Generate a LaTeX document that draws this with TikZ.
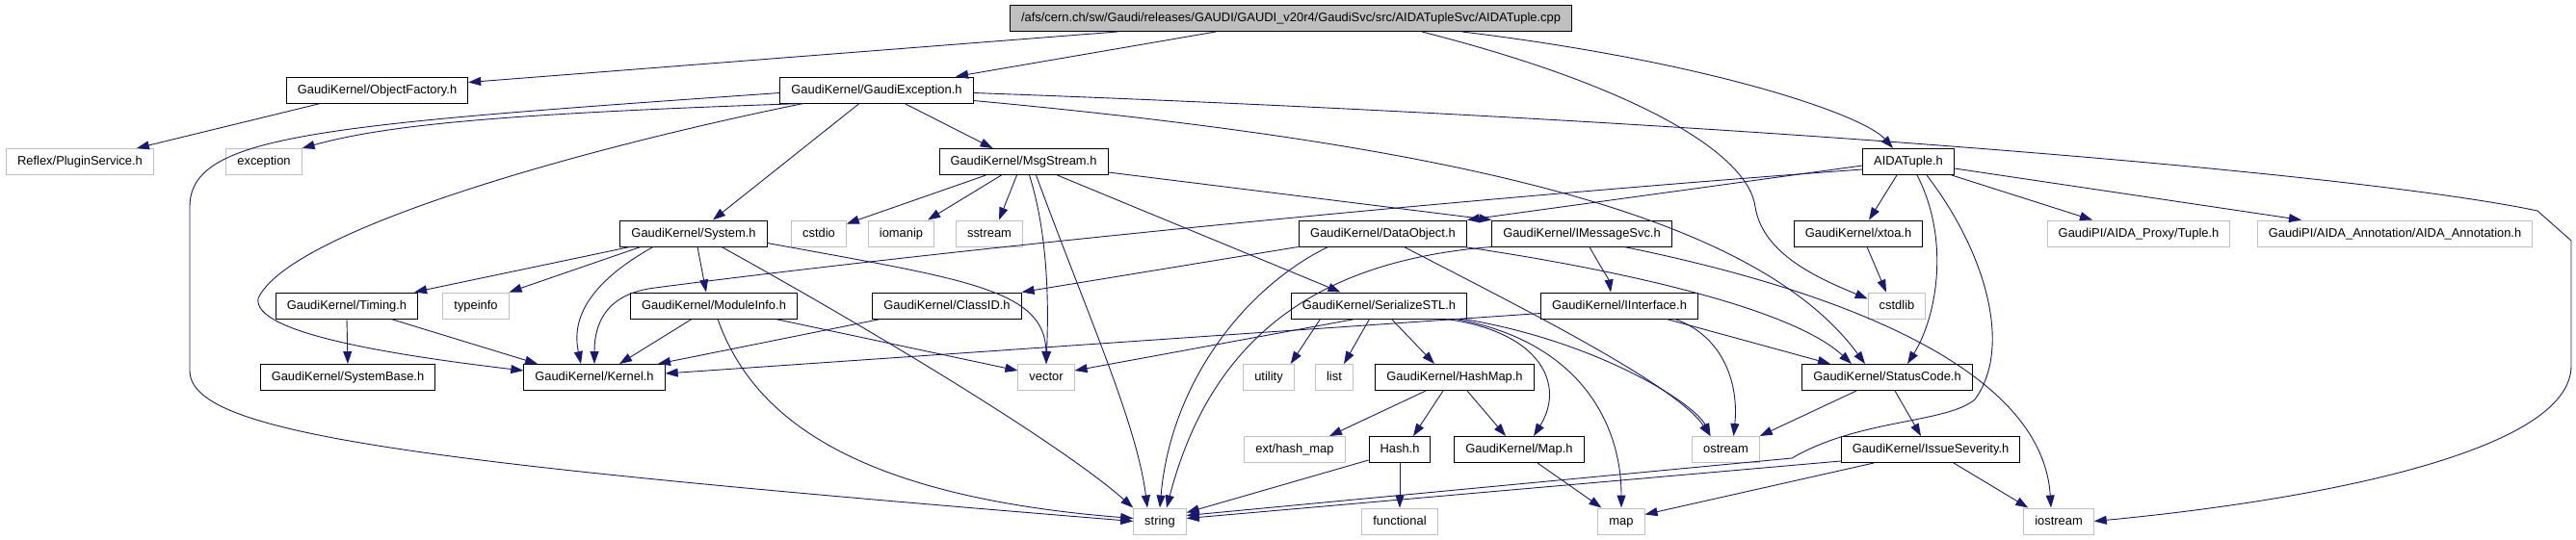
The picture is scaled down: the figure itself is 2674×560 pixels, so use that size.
\documentclass[tikz,border=0pt]{standalone}
\usepackage{fontspec}
\setmainfont{Liberation Sans}
\usetikzlibrary{arrows.meta,calc}
\definecolor{edgec}{HTML}{191970}
\definecolor{grayb}{HTML}{BFBFBF}
\begin{document}
\begin{tikzpicture}[x=1pt,y=-1pt,
  box/.style={draw=black,line width=1pt,inner xsep=11.5pt,inner ysep=0pt,minimum height=27pt,
    text height=9.6pt,text depth=2.6pt,font=\fontsize{12.9}{15}\selectfont,anchor=center},
  gbox/.style={box,draw=grayb},
  rootbox/.style={box,fill=grayb},
  e/.style={draw=edgec,line width=0.9pt,-{Triangle[length=13pt,width=9pt]}}]
\useasboundingbox (0,0) rectangle (2674,560);
% row 1
\node[rootbox] (root) at (1340,19) {/afs/cern.ch/sw/Gaudi/releases/GAUDI/GAUDI\_v20r4/GaudiSvc/src/AIDATupleSvc/AIDATuple.cpp};
% row 2
\node[box] (of) at (391.5,93.5) {GaudiKernel/ObjectFactory.h};
\node[box] (ge) at (910,93.5) {GaudiKernel/GaudiException.h};
% row 3
\node[gbox] (plugin) at (83,168) {Reflex/PluginService.h};
\node[gbox] (exc) at (274,168) {exception};
\node[box] (msg) at (1062.5,168) {GaudiKernel/MsgStream.h};
\node[box] (aida) at (1981,168) {AIDATuple.h};
% row 4
\node[box] (sys) at (720,242.5) {GaudiKernel/System.h};
\node[gbox] (cstdio) at (850,242.5) {cstdio};
\node[gbox] (iomanip) at (935.5,242.5) {iomanip};
\node[gbox] (sstream) at (1027,242.5) {sstream};
\node[box] (dobj) at (1435.5,242.5) {GaudiKernel/DataObject.h};
\node[box] (imsg) at (1642,242.5) {GaudiKernel/IMessageSvc.h};
\node[box] (xtoa) at (1929,242.5) {GaudiKernel/xtoa.h};
\node[gbox] (tuple) at (2220,242.5) {GaudiPI/AIDA\_Proxy/Tuple.h};
\node[gbox] (annot) at (2486,242.5) {GaudiPI/AIDA\_Annotation/AIDA\_Annotation.h};
% row 5
\node[box] (timing) at (360,317.5) {GaudiKernel/Timing.h};
\node[gbox] (typeinfo) at (494,317.5) {typeinfo};
\node[box] (modinfo) at (741,317.5) {GaudiKernel/ModuleInfo.h};
\node[box] (classid) at (983,317.5) {GaudiKernel/ClassID.h};
\node[box] (sstl) at (1431.5,317.5) {GaudiKernel/SerializeSTL.h};
\node[box] (iintf) at (1681,317.5) {GaudiKernel/IInterface.h};
\node[gbox] (cstdlib) at (1969,317.5) {cstdlib};
% row 6
\node[box] (sysbase) at (361,392) {GaudiKernel/SystemBase.h};
\node[box] (kernel) at (617,392) {GaudiKernel/Kernel.h};
\node[gbox] (vector) at (1086,392) {vector};
\node[gbox] (utility) at (1317,392) {utility};
\node[gbox] (list) at (1385,392) {list};
\node[box] (hashmap) at (1510,392) {GaudiKernel/HashMap.h};
\node[box] (status) at (1959,392) {GaudiKernel/StatusCode.h};
% row 7
\node[gbox] (hmap) at (1344,467) {ext/hash\_map};
\node[box] (hash) at (1453,467) {Hash.h};
\node[box] (maph) at (1577,467) {GaudiKernel/Map.h};
\node[gbox] (ostream) at (1791.5,467) {ostream};
\node[box] (issue) at (2004,467) {GaudiKernel/IssueSeverity.h};
% row 8
\node[gbox] (string) at (1204,541.5) {string};
\node[gbox] (functional) at (1453,541.5) {functional};
\node[gbox] (map) at (1683,541.5) {map};
\node[gbox] (iostream) at (2137,541.5) {iostream};

% root
\draw[e] ($(root.south)+(-180,0)$) -- ($(of.east)+(0,-8)$);
\draw[e] ($(root.south)+(-78,0)$) -- ($(ge.north)+(82,0)$);
\draw[e] ($(root.south)+(178,0)$) .. controls (1780,65) and (1935,120) .. ($(aida.north)+(-16,0)$);
\draw[e] ($(root.south)+(136,0)$) .. controls (1700,90) and (1815,160) .. (1822,215) .. controls (1830,265) and (1890,290) .. ($(cstdlib.west)+(0,-7)$);
% ObjectFactory
\draw[e] ($(of.south)+(-59,0)$) -- ($(plugin.north east)+(-18,0)$);
% GaudiException
\draw[e] ($(ge.west)+(0,3)$) .. controls (330,130) and (197,140) .. (197,215) -- (197,385) .. controls (197,450) and (420,480) .. (string.west);
\draw[e] ($(ge.south)+(-76,0)$) .. controls (520,118) and (400,130) .. (exc.north east);
\draw[e] ($(ge.south)+(-76,0)$) .. controls (600,155) and (300,240) .. (268,310) .. controls (262,345) and (400,368) .. ($(kernel.west)+(0,-7)$);
\draw[e] ($(ge.south)+(-18,0)$) -- ($(sys.north)+(20,0)$);
\draw[e] ($(ge.south)+(29,0)$) -- ($(msg.north)+(-32,0)$);
\draw[e] ($(ge.east)+(0,3)$) .. controls (1800,125) and (2450,180) .. (2634,219) -- (2669,250) -- (2669,380) .. controls (2669,470) and (2400,520) .. (iostream.east);
\draw[e] ($(ge.east)+(0,11)$) .. controls (1500,150) and (1820,220) .. ($(status.north)+(-23,0)$);
% MsgStream
\draw[e] ($(msg.south)+(-39,0)$) -- ($(cstdio.north east)+(0,4)$);
\draw[e] ($(msg.south)+(-23,0)$) -- ($(iomanip.north east)+(-7,0)$);
\draw[e] ($(msg.south)+(-7,0)$) -- ($(sstream.north)+(10,0)$);
\draw[e] ($(msg.south)+(6,0)$) .. controls (1090,250) and (1088,330) .. (vector.north);
\draw[e] ($(msg.south)+(13,0)$) .. controls (1130,330) and (1180,440) .. ($(string.north)+(-13,0)$);
\draw[e] ($(msg.south)+(35,0)$) -- ($(sstl.north)+(-40,0)$);
\draw[e] ($(msg.south east)+(0,-3)$) -- (imsg.north west);
% AIDATuple
\draw[e] ($(aida.west)+(0,4)$) -- (dobj.north east);
\draw[e] ($(aida.west)+(0,8)$) .. controls (1400,215) and (900,270) .. (680,299) .. controls (630,305) and (617,335) .. (kernel.north);
\draw[e] ($(aida.south)+(-12,0)$) -- ($(xtoa.north)+(11,0)$);
\draw[e] ($(aida.south)+(9,0)$) .. controls (2025,250) and (2010,330) .. ($(status.north)+(21,0)$);
\draw[e] ($(aida.south)+(19,0)$) .. controls (2060,260) and (2090,360) .. (2050,415) .. controls (2020,440) and (1930,435) .. (1860,476) -- ($(string.east)+(0,-6)$);
\draw[e] ($(aida.south east)+(-3,0)$) -- ($(tuple.north)+(-48,0)$);
\draw[e] ($(aida.east)+(0,7)$) -- ($(annot.north)+(-97,0)$);
% System
\draw[e] ($(sys.south)+(-66,0)$) -- ($(timing.north east)+(-4,0)$);
\draw[e] ($(sys.south)+(-55,0)$) -- (typeinfo.north east);
\draw[e] ($(sys.south)+(-42,0)$) .. controls (600,300) and (595,340) .. ($(kernel.north)+(-14,0)$);
\draw[e] ($(sys.south)+(4,0)$) -- ($(modinfo.north)+(-8,0)$);
\draw[e] ($(sys.south)+(29,0)$) .. controls (900,340) and (1100,460) .. (string.north west);
\draw[e] ($(sys.east)+(0,10)$) .. controls (1000,290) and (1085,300) .. (vector.north);
% Timing
\draw[e] (timing.south) -- (sysbase.north);
\draw[e] ($(timing.south)+(46,0)$) -- ($(kernel.north)+(-59,0)$);
% ModuleInfo
\draw[e] ($(modinfo.south)+(-23,0)$) -- ($(kernel.north)+(26,0)$);
\draw[e] ($(modinfo.south)+(4,0)$) .. controls (780,430) and (880,515) .. ($(string.west)+(0,-3)$);
\draw[e] ($(modinfo.south)+(64,0)$) -- ($(vector.west)+(0,-7)$);
% ClassID
\draw[e] ($(classid.south)+(-69,0)$) -- ($(kernel.north)+(66,0)$);
% DataObject
\draw[e] ($(dobj.south)+(-88,0)$) -- (classid.north east);
\draw[e] ($(dobj.south)+(-57,0)$) .. controls (1290,300) and (1215,400) .. (string.north);
\draw[e] ($(dobj.south)+(22,0)$) .. controls (1580,320) and (1740,400) .. ($(ostream.north)+(-16,0)$);
\draw[e] ($(dobj.south)+(84,0)$) .. controls (1680,280) and (1860,320) .. ($(status.north)+(-37,0)$);
% IMessageSvc
\draw[e] ($(imsg.south)+(8,0)$) .. controls (1660,275) and (1670,290) .. ($(iintf.north)+(-9,0)$);
\draw[e] ($(imsg.south)+(44,0)$) .. controls (1900,300) and (2120,380) .. ($(iostream.north)+(-8,0)$);
\draw[e] (imsg.south west) .. controls (1380,270) and (1260,340) .. ($(string.north)+(7,0)$);
% IInterface
\draw[e] ($(iintf.west)+(0,8)$) -- ($(kernel.east)+(0,-4)$);
\draw[e] ($(iintf.south)+(49,0)$) -- ($(status.north)+(-59,0)$);
\draw[e] ($(iintf.south)+(58,0)$) .. controls (1790,350) and (1805,400) .. ($(ostream.north)+(8,0)$);
% SerializeSTL
\draw[e] ($(sstl.south)+(-25,0)$) -- ($(vector.east)+(0,-7)$);
\draw[e] ($(sstl.south)+(-61,0)$) -- ($(utility.north east)+(-4,0)$);
\draw[e] ($(sstl.south)+(-10,0)$) -- ($(list.north)+(10,0)$);
\draw[e] ($(sstl.south)+(13,0)$) -- ($(hashmap.north)+(-21,0)$);
\draw[e] ($(sstl.south)+(70,0)$) .. controls (1600,345) and (1625,400) .. ($(maph.north)+(15,0)$);
\draw[e] ($(sstl.south)+(80,0)$) .. controls (1640,355) and (1683,440) .. (map.north);
\draw[e] ($(sstl.south)+(88,0)$) .. controls (1660,355) and (1760,420) .. ($(ostream.north)+(-16,0)$);
% HashMap
\draw[e] ($(hashmap.south)+(-30,0)$) -- ($(hmap.north)+(36,0)$);
\draw[e] ($(hashmap.south)+(-12,0)$) -- ($(hash.north)+(14,0)$);
\draw[e] ($(hashmap.south)+(13,0)$) -- ($(maph.north)+(-14,0)$);
% Hash
\draw[e] (hash.south) -- (functional.north);
\draw[e] ($(hash.south west)+(0,-3)$) -- ($(string.east)+(0,-9)$);
% Map
\draw[e] ($(maph.south)+(19,0)$) -- ($(map.north west)+(4,0)$);
% StatusCode
\draw[e] ($(status.south)+(-32,0)$) -- (ostream.north east);
\draw[e] ($(status.south)+(8,0)$) -- ($(issue.north)+(-10,0)$);
% IssueSeverity
\draw[e] ($(issue.south west)+(0,-2)$) -- ($(string.east)+(0,-3)$);
\draw[e] ($(issue.south)+(-59,0)$) -- ($(map.east)+(0,-7)$);
\draw[e] ($(issue.south)+(24,0)$) -- ($(iostream.north west)+(5,0)$);
% xtoa
\draw[e] ($(xtoa.south)+(9,0)$) -- ($(cstdlib.north)+(-11,0)$);
\end{tikzpicture}
\end{document}
